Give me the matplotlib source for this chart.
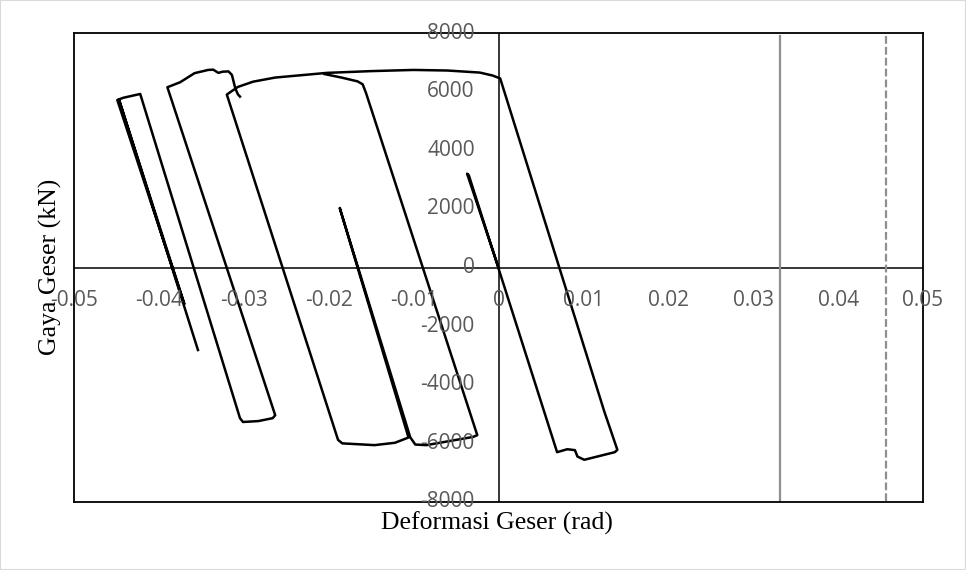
import matplotlib
matplotlib.use('Agg')
import matplotlib.pyplot as plt
from matplotlib.patches import Rectangle

# shear deformation (rad) / shear force (kN), cycles around the origin
loop_a_rad = [0.0, -0.0037, -0.0035, 0.0069,
              0.0081, 0.0090, 0.0093, 0.0101, 0.0137, 0.0140,
              0.0128, 0.0125, 0.0002, -0.0007, -0.0022,
              -0.0060, -0.0100, -0.0150, -0.0202, -0.0263, -0.0289, -0.0307, -0.0320,
              -0.0189, -0.0184, -0.0146, -0.0122, -0.0106,
              -0.0187, -0.0104,
              -0.0098, -0.0085, -0.0030, -0.0025,
              -0.0156, -0.0160, -0.0166, -0.0185, -0.0205]
loop_a_kn = [0, 3200, 3150, -6300,
             -6200, -6230, -6450, -6560, -6300, -6220,
             -5200, -4950, 6450, 6550, 6650,
             6720, 6740, 6700, 6640, 6480, 6340, 6160, 5900,
             -5880, -6000, -6060, -5980, -5800,
             2030, -5790,
             -6040, -6060, -5780, -5720,
             5950, 6250, 6350, 6480, 6600]

# later cycles drifting to the negative side
loop_b_rad = [-0.03045, -0.0307, -0.0310, -0.0314, -0.0318, -0.0325, -0.0330,
              -0.0336, -0.0342, -0.0358, -0.0375, -0.0390,
              -0.0263, -0.0266, -0.0283, -0.0301, -0.03045,
              -0.0422, -0.0442, -0.0449,
              -0.0370, -0.0447, -0.0354]
loop_b_kn = [5830, 5910, 6110, 6570, 6690, 6680, 6640,
             6750, 6740, 6630, 6320, 6150,
             -5040, -5140, -5240, -5270, -5140,
             5920, 5790, 5715,
             -1250, 5730, -2815]

# drift limits
limit_solid = 0.0332
limit_dashed = 0.0456
limit_span = [7900, -8000]

x_ticks = [-0.05, -0.04, -0.03, -0.02, -0.01, 0, 0.01, 0.02, 0.03, 0.04, 0.05]
x_labels = ['-0.05', '-0.04', '-0.03', '-0.02', '-0.01', '0', '0.01', '0.02', '0.03', '0.04', '0.05']
y_ticks = [-8000, -6000, -4000, -2000, 0, 2000, 4000, 6000, 8000]
y_labels = ['-8000', '-6000', '-4000', '-2000', '0', '2000', '4000', '6000', '8000']

fig = plt.figure(figsize=(9.66, 5.70), dpi=100)
ax = fig.add_axes([0.0766, 0.1193, 0.8789, 0.8228])
ax.set_xlim(-0.05, 0.05)
ax.set_ylim(-8000, 8000)
ax.set_xticks([])
ax.set_yticks([])
for sp in ax.spines.values():
    sp.set_linewidth(1.3)
    sp.set_color('black')

ax.axhline(0, color='black', lw=1.1, zorder=1)
ax.axvline(0, color='black', lw=1.1, zorder=1)

ax.plot([limit_solid, limit_solid], limit_span, color='#8f8f8f', lw=1.6, zorder=2)
ax.plot([limit_dashed, limit_dashed], limit_span, color='#8f8f8f', lw=1.6,
        ls=(0, (3.5, 1.4)), zorder=2)

ax.plot(loop_a_rad, loop_a_kn, color='black', lw=1.8, solid_joinstyle='round', zorder=3)
ax.plot(loop_b_rad, loop_b_kn, color='black', lw=1.8, solid_joinstyle='round', zorder=3)

tick_font = dict(family='Open Sans', size=15, color='#595959', zorder=4)
for v, s in zip(x_ticks, x_labels):
    ax.text(v, -1110, s, ha='center', va='center', clip_on=False, **tick_font)
for v, s in zip(y_ticks, y_labels):
    ax.text(-0.0028, v, s, ha='right', va='center', clip_on=False, **tick_font)

title_font = dict(family='Liberation Serif', size=18.5, color='black')
fig.text(0.5145, 0.0825, 'Deformasi Geser (rad)', ha='center', va='center', **title_font)
fig.text(0.052, 0.531, 'Gaya Geser (kN)', ha='center', va='center', rotation=90, **title_font)

fig.patches.append(Rectangle((0, 0), 1, 1, transform=fig.transFigure, fill=False,
                             edgecolor='#d9d9d9', lw=1.5))

fig.savefig('out.png', dpi=100)
